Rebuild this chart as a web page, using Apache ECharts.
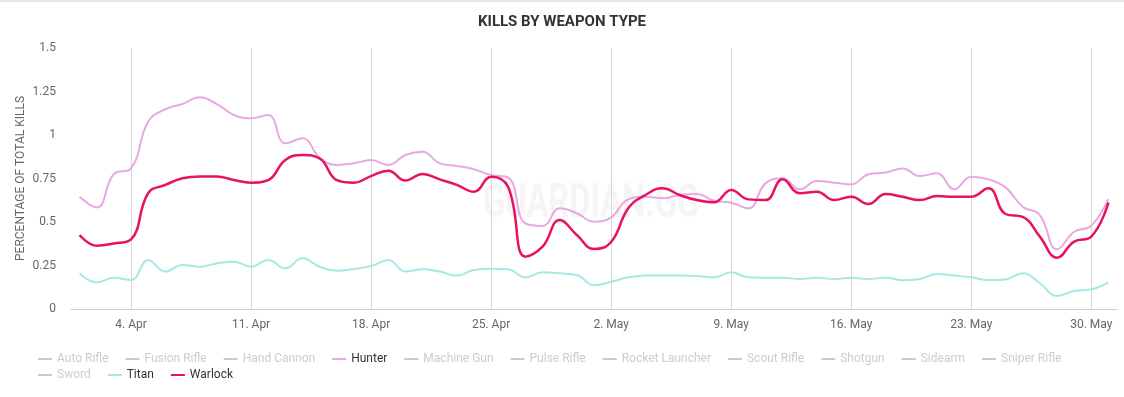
<!DOCTYPE html>
<html>
<head>
<meta charset="utf-8">
<script src="https://cdn.jsdelivr.net/npm/echarts@6/dist/echarts.min.js"></script>
<style>
html, body { margin: 0; padding: 0; background: #fff; }
#main { width: 1124px; height: 397px; }
</style>
</head>
<body>
<div id="main"></div>
<script>
// daily labels, 1. Apr .. 31. May
var months = [['Apr', 30], ['May', 31]];
var days = [];
for (var m = 0; m < months.length; m++) {
	for (var d = 1; d <= months[m][1]; d++) {
		days.push(d + '. ' + months[m][0]);
	}
}

var weaponNames = ['Auto Rifle', 'Fusion Rifle', 'Hand Cannon', 'Hunter', 'Machine Gun', 'Pulse Rifle',
	'Rocket Launcher', 'Scout Rifle', 'Shotgun', 'Sidearm', 'Sniper Rifle'];
var secondRow = ['Sword', 'Titan', 'Warlock'];
var hiddenNames = ['Auto Rifle', 'Fusion Rifle', 'Hand Cannon', 'Machine Gun', 'Pulse Rifle',
	'Rocket Launcher', 'Scout Rifle', 'Shotgun', 'Sidearm', 'Sniper Rifle', 'Sword'];

var hunter = [0.645, 0.584, 0.776, 0.808, 1.076, 1.148, 1.178, 1.217, 1.178, 1.115,
	1.096, 1.115, 0.952, 0.981, 0.87, 0.828, 0.837, 0.856, 0.828, 0.885,
	0.904, 0.837, 0.822, 0.803, 0.770, 0.755, 0.492, 0.477, 0.579, 0.55,
	0.502, 0.527, 0.630, 0.645, 0.636, 0.655, 0.661, 0.622, 0.611, 0.579,
	0.722, 0.751, 0.688, 0.736, 0.726, 0.716, 0.774, 0.784, 0.808, 0.764,
	0.780, 0.688, 0.760, 0.745, 0.699, 0.588, 0.540, 0.343, 0.444, 0.479, 0.632];
var titan = [0.205, 0.153, 0.18, 0.167, 0.282, 0.215, 0.253, 0.243, 0.262, 0.272,
	0.243, 0.282, 0.234, 0.291, 0.243, 0.22, 0.23, 0.247, 0.282, 0.215,
	0.228, 0.215, 0.192, 0.224, 0.232, 0.228, 0.182, 0.211, 0.205, 0.195,
	0.136, 0.157, 0.182, 0.192, 0.192, 0.192, 0.19, 0.182, 0.211, 0.182,
	0.18, 0.18, 0.172, 0.18, 0.172, 0.18, 0.172, 0.18, 0.165, 0.172,
	0.201, 0.192, 0.182, 0.167, 0.17, 0.205, 0.148, 0.075, 0.103, 0.113, 0.153];
var warlock = [0.425, 0.364, 0.377, 0.40, 0.665, 0.713, 0.751, 0.762, 0.762, 0.741,
	0.726, 0.741, 0.856, 0.885, 0.865, 0.741, 0.726, 0.764, 0.795, 0.738,
	0.776, 0.745, 0.713, 0.674, 0.760, 0.70, 0.301, 0.358, 0.511, 0.425,
	0.345, 0.385, 0.579, 0.655, 0.694, 0.655, 0.626, 0.613, 0.684, 0.630,
	0.626, 0.745, 0.665, 0.674, 0.626, 0.645, 0.603, 0.661, 0.645, 0.626,
	0.649, 0.645, 0.645, 0.694, 0.546, 0.530, 0.416, 0.295, 0.387, 0.416, 0.611];

var yTicks = { min: 0, max: 1.5, interval: 0.25 };

var font = "Roboto, sans-serif";

var selected = {};
for (var h = 0; h < hiddenNames.length; h++) selected[hiddenNames[h]] = false;

var colors = { 'Hunter': '#e8a8e2', 'Titan': '#a8e8e4', 'Warlock': '#e8125e' };
var values = { 'Hunter': hunter, 'Titan': titan, 'Warlock': warlock };

var allNames = weaponNames.concat(secondRow);
var series = [];
for (var s = 0; s < allNames.length; s++) {
	var nm = allNames[s];
	series.push({
		name: nm,
		type: 'line',
		smooth: 0.45,
		showSymbol: false,
		symbol: 'none',
		color: colors[nm] || '#cccccc',
		lineStyle: { width: nm == 'Warlock' ? 2.5 : 2 },
		z: nm == 'Warlock' ? 5 : 3,
		data: values[nm] || []
	});
}

var legendBase = {
	left: 33,
	width: 1085,
	itemGap: 17,
	itemWidth: 14,
	itemHeight: 2,
	icon: 'rect',
	inactiveColor: '#cccccc',
	inactiveBorderColor: '#cccccc',
	selected: selected,
	textStyle: { color: '#333', fontSize: 12, fontFamily: font }
};

var chart = echarts.init(document.getElementById('main'));
chart.setOption({
	animation: false,
	title: {
		text: 'KILLS BY WEAPON TYPE',
		left: 'center',
		top: 10,
		textStyle: { color: '#333', fontSize: 15, fontWeight: 'bold', fontFamily: font }
	},
	graphic: [
		{ type: 'rect', left: 0, top: 0, shape: { width: 1124, height: 2 }, style: { fill: '#e6e6e6' } },
		{ type: 'text', x: 483, y: 181, scaleX: 0.68, z: -1,
			style: { text: 'GUARDIAN.GG', fill: '#f5f5f5', font: 'bold 48px Roboto' } }
	],
	legend: [
		echarts.util.merge({ top: 348, data: weaponNames }, legendBase, false),
		echarts.util.merge({ top: 364, data: secondRow }, legendBase, false)
	],
	grid: { left: 71, right: 7, top: 48, bottom: 88 },
	xAxis: {
		type: 'category',
		data: days,
		boundaryGap: true,
		axisLine: { lineStyle: { color: '#cccccc' } },
		axisTick: { show: false },
		axisLabel: {
			interval: function (i) { return (i - 3) % 7 === 0; },
			color: '#666',
			fontSize: 12,
			fontFamily: font,
			margin: 10
		},
		splitLine: {
			show: true,
			alignWithLabel: true,
			interval: function (i) { return (i - 3) % 7 === 0; },
			lineStyle: { color: '#d8d8d8', width: 1 }
		}
	},
	yAxis: {
		type: 'value',
		min: yTicks.min,
		max: yTicks.max,
		interval: yTicks.interval,
		name: 'PERCENTAGE OF TOTAL KILLS',
		nameLocation: 'middle',
		nameGap: 44,
		nameMoveOverlap: false,
		nameTextStyle: { color: '#666', fontSize: 12, fontFamily: font },
		axisLine: { show: false },
		axisTick: { show: false },
		splitLine: { show: false },
		axisLabel: { color: '#666', fontSize: 12, fontFamily: font, margin: 15 }
	},
	series: series
});
</script>
</body>
</html>
